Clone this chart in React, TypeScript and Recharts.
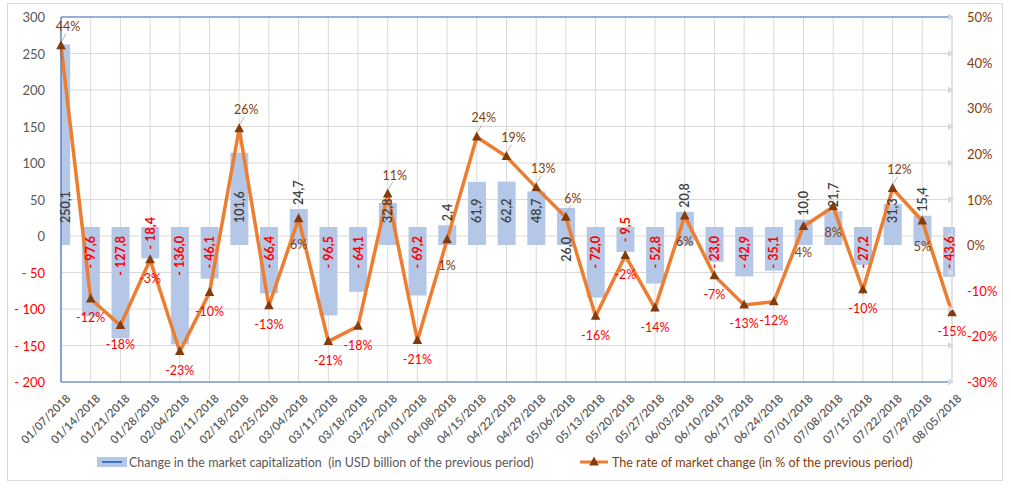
import React from 'react';
import { ComposedChart, Bar, Line, XAxis, YAxis, CartesianGrid, ReferenceLine, LabelList } from 'recharts';

const weeks = [
  '01/07/2018', '01/14/2018', '01/21/2018', '01/28/2018', '02/04/2018', '02/11/2018', '02/18/2018', '02/25/2018',
  '03/04/2018', '03/11/2018', '03/18/2018', '03/25/2018', '04/01/2018', '04/08/2018', '04/15/2018', '04/22/2018',
  '04/29/2018', '05/06/2018', '05/13/2018', '05/20/2018', '05/27/2018', '06/03/2018', '06/10/2018', '06/17/2018',
  '06/24/2018', '07/01/2018', '07/08/2018', '07/15/2018', '07/22/2018', '07/29/2018', '08/05/2018',
];

const capChange = [
  250.1, -97.6, -127.8, -18.4, -136.0, -46.1, 101.6, -66.4,
  24.7, -96.5, -64.1, 32.8, -69.2, 2.4, 61.9, 62.2,
  48.7, 26.0, -72.0, -9.5, -52.8, 20.8, -23.0, -42.9,
  -35.1, 10.0, 21.7, -27.2, 31.3, 15.4, -43.6,
];

const rateChange = [
  43.7, -11.8, -17.6, -3.2, -23.3, -10.4, 25.5, -13.3,
  5.8, -21.1, -17.8, 11.2, -20.9, 1.2, 23.7, 19.4,
  12.6, 6.1, -15.6, -2.3, -13.8, 6.4, -6.7, -13.1,
  -12.4, 4.1, 8.4, -9.8, 12.4, 5.3, -14.8,
];

const leftTicks = [-200, -150, -100, -50, 0, 50, 100, 150, 200, 250, 300];
const rightTicks = [-30, -20, -10, 0, 10, 20, 30, 40, 50];

const data = weeks.map((w, i) => ({ idx: i, week: w, cap: capChange[i], rate: rateChange[i] }));
const xTicks = data.map((d) => d.idx);

const FONT = 'Lato, "Open Sans", "Noto Sans", sans-serif';
const PLOT_LEFT = 61;
const PLOT_RIGHT = 952;
const EXT = 9;
const BAR_FILL = '#B4C7E7';
const GRID = '#D9D9D9';
const AXIS_BLUE = '#4472C4';
const BROWN = '#843C0C';
const RED = '#FF0000';
const GRAY = '#595959';
const ORANGE = '#ED7D31';

const fmtCap = (v: number) => {
  const s = Math.abs(v).toFixed(1).replace('.', ',');
  return v < 0 ? `- ${s}` : s;
};

const clipX = (x: number, width: number) => {
  const x0 = Math.max(x, PLOT_LEFT);
  const x1 = Math.min(x + width, PLOT_RIGHT + 3);
  return [x0, x1];
};

const BarShape = (props: any) => {
  const { x, y, width, height } = props;
  const top = Math.min(y, y + height) - EXT;
  const bottom = Math.max(y, y + height) + EXT;
  const [x0, x1] = clipX(x, width);
  return <rect x={x0} y={top} width={Math.max(0, x1 - x0)} height={bottom - top} fill={BAR_FILL} />;
};

const BarLabel = (props: any) => {
  const { x, y, width, height, value } = props;
  const v = Number(value);
  const [x0, x1] = clipX(x, width);
  const cx = (x0 + x1) / 2;
  const top = Math.min(y, y + height);
  const bottom = Math.max(y, y + height);
  let ay: number;
  let anchor: 'start' | 'end';
  if (v >= 0) {
    if (v >= 30) {
      anchor = 'start';
      ay = bottom - 13;
    } else if (v >= 25) {
      anchor = 'end';
      ay = bottom + 1;
    } else {
      anchor = 'start';
      ay = top - EXT - 4;
    }
  } else {
    anchor = 'end';
    ay = Math.abs(v) >= 20 ? top : top - 19;
  }
  return (
    <text
      x={cx}
      y={ay}
      transform={`rotate(-90 ${cx} ${ay})`}
      textAnchor={anchor}
      dominantBaseline="central"
      fontFamily={FONT}
      fontSize={12.5}
      fontWeight={v < 0 ? 700 : 600}
      fill={v < 0 ? RED : '#404040'}
    >
      {fmtCap(v)}
    </text>
  );
};

const TriangleDot = (props: any) => {
  const { cx, cy } = props;
  if (cx == null || cy == null) return null;
  return <polygon points={`${cx},${cy - 5.5} ${cx + 4.8},${cy + 3.5} ${cx - 4.8},${cy + 3.5}`} fill={BROWN} />;
};

const RateLabel = (props: any) => {
  const { x, y, value, index } = props;
  const v = Number(value);
  const bar = capChange[index];
  const txt = `${Math.round(v)}%`;
  const common = { fontFamily: FONT, fontSize: 12.5, dominantBaseline: 'central' as const, textAnchor: 'middle' as const };
  if (v < 0) {
    return (
      <text x={x} y={y + 19} fill={RED} {...common}>
        {txt}
      </text>
    );
  }
  if (bar >= 25) {
    return (
      <g>
        <line x1={x + 1} y1={y - 5} x2={x + 5} y2={y - 12} stroke="#A6A6A6" strokeWidth={0.8} />
        <text x={x + 7} y={y - 19} fill={BROWN} {...common}>
          {txt}
        </text>
      </g>
    );
  }
  return (
    <text x={x} y={y + 26} fill={BROWN} {...common}>
      {txt}
    </text>
  );
};

const XTick = (props: any) => {
  const { x, y, payload } = props;
  const label = weeks[payload.value] ?? '';
  const px = x + 7;
  const py = y + 14;
  return (
    <text
      x={px}
      y={py}
      transform={`rotate(-45 ${px} ${py})`}
      textAnchor="end"
      dominantBaseline="central"
      fontFamily={FONT}
      fontSize={11.5}
      fontWeight={600}
      fill={GRAY}
    >
      {label}
    </text>
  );
};

const LeftTick = (props: any) => {
  const { x, y, payload } = props;
  const v = payload.value;
  const txt = v < 0 ? `- ${Math.abs(v)}` : `${v}`;
  return (
    <g>
      <text x={x} y={y} textAnchor="end" dominantBaseline="central" fontFamily={FONT} fontSize={13} fill={v < 0 ? RED : GRAY}>
        {txt}
      </text>
      <polygon points={`${PLOT_RIGHT - 4},${y - 3.5} ${PLOT_RIGHT + 2},${y} ${PLOT_RIGHT - 4},${y + 3.5}`} fill={GRID} />
    </g>
  );
};

const RightTick = (props: any) => {
  const { x, y, payload } = props;
  const v = payload.value;
  return (
    <text x={x} y={y} textAnchor="start" dominantBaseline="central" fontFamily={FONT} fontSize={13} fill={v < 0 ? RED : BROWN}>
      {`${v}%`}
    </text>
  );
};

export default function App() {
  return (
    <div style={{ position: 'absolute', left: 0, top: 0, width: 1011, height: 497, background: '#fff' }}>
      <div
        style={{
          position: 'absolute',
          left: 7,
          top: 3,
          width: 996,
          height: 478,
          border: `1px solid ${GRID}`,
          boxSizing: 'border-box',
        }}
      />
      <div style={{ position: 'absolute', left: 0, top: 0 }}>
        <ComposedChart width={1011} height={497} data={data} margin={{ top: 17, right: 0, left: 0, bottom: 55 }}>
          <CartesianGrid yAxisId="left" stroke={GRID} strokeWidth={1} />
          <XAxis
            dataKey="idx"
            type="number"
            domain={[0, 30]}
            ticks={xTicks}
            interval={0}
            height={60}
            tickSize={0}
            tickMargin={0}
            axisLine={{ stroke: AXIS_BLUE, strokeWidth: 1.2 }}
            tickLine={false}
            tick={<XTick />}
          />
          <YAxis
            yAxisId="left"
            domain={[-200, 300]}
            ticks={leftTicks}
            interval={0}
            width={61}
            tickSize={0}
            tickMargin={16}
            axisLine={{ stroke: AXIS_BLUE, strokeWidth: 1.2 }}
            tickLine={false}
            tick={<LeftTick />}
          />
          <YAxis
            yAxisId="right"
            orientation="right"
            domain={[-30, 50]}
            ticks={rightTicks}
            interval={0}
            width={59}
            tickSize={0}
            tickMargin={15}
            axisLine={{ stroke: GRID, strokeWidth: 1 }}
            tickLine={false}
            tick={<RightTick />}
          />
          <ReferenceLine yAxisId="left" y={300} stroke={AXIS_BLUE} strokeWidth={1.2} />
          <Bar yAxisId="left" dataKey="cap" barSize={18} shape={<BarShape />} isAnimationActive={false}>
            <LabelList dataKey="cap" content={<BarLabel />} />
          </Bar>
          <Line
            yAxisId="right"
            dataKey="rate"
            type="linear"
            stroke={ORANGE}
            strokeWidth={3.5}
            dot={<TriangleDot />}
            activeDot={false}
            isAnimationActive={false}
          >
            <LabelList dataKey="rate" content={<RateLabel />} />
          </Line>
        </ComposedChart>
      </div>
      <div style={{ position: 'absolute', left: 97, top: 454, height: 16, display: 'flex', alignItems: 'center', fontFamily: FONT, fontSize: 12.5, color: GRAY }}>
        <span style={{ position: 'relative', display: 'inline-block', width: 30, height: 10, background: BAR_FILL, marginRight: 2 }}>
          <span style={{ position: 'absolute', left: 5, right: 5, top: 4, height: 2, background: AXIS_BLUE }} />
        </span>
        <span style={{ whiteSpace: 'pre' }}>Change in the market capitalization  (in USD billion of the previous period)</span>
      </div>
      <div style={{ position: 'absolute', left: 580, top: 454, height: 16, display: 'flex', alignItems: 'center', fontFamily: FONT, fontSize: 12.5, color: BROWN }}>
        <svg width={30} height={12} style={{ marginRight: 2 }}>
          <line x1={0} y1={6} x2={28} y2={6} stroke={ORANGE} strokeWidth={3} />
          <polygon points="14,0.5 18.8,9.5 9.2,9.5" fill={BROWN} />
        </svg>
        <span>The rate of market change (in % of the previous period)</span>
      </div>
    </div>
  );
}
